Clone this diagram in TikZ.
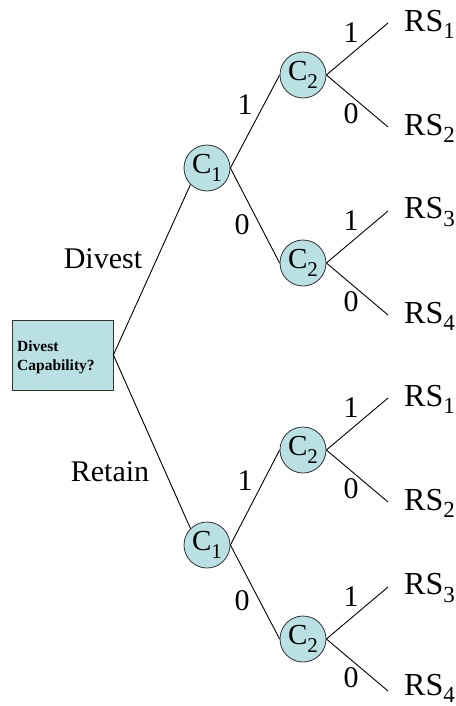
\documentclass[tikz,border=0pt]{standalone}
\usepackage{fontspec}
\setmainfont{Liberation Serif}
\definecolor{nodefill}{RGB}{185,224,226}
\newcommand\lbsub[1]{\raisebox{-0.28em}{\fontsize{21}{21}\selectfont #1}}
\newcommand\rssub[1]{\raisebox{-0.22em}{\fontsize{23}{23}\selectfont #1}}
\begin{document}
\begin{tikzpicture}[x=1pt,y=-1pt,
  branch/.style={draw=black, line width=0.9pt},
  chance/.style={circle, draw=black!80, line width=0.8pt, fill=nodefill,
    minimum size=46pt, inner sep=0pt, font=\fontsize{29}{29}\selectfont},
  decision/.style={rectangle, draw=black!80, line width=0.8pt, fill=nodefill,
    minimum width=101pt, minimum height=70pt, inner sep=0pt},
  lbl/.style={font=\fontsize{30}{34}\selectfont, inner sep=0pt},
  outcome/.style={font=\fontsize{32}{36}\selectfont, inner sep=0pt, anchor=west}]
\useasboundingbox (0,0) rectangle (455,706);

% decision box
\node[decision] (root) at (62.5,355) {};
\node[anchor=west, align=left, inner sep=0pt,
  font=\fontsize{15.5}{19}\selectfont\bfseries] (roottext) at (17,357)
  {Divest\\Capability?};

% first-level chance nodes
\node[chance] (c1a) at (207,168) {C\lbsub{1}};
\node[chance] (c1b) at (207,545) {C\lbsub{1}};

% second-level chance nodes
\node[chance] (c2a) at (303,75)  {C\lbsub{2}};
\node[chance] (c2b) at (303,263) {C\lbsub{2}};
\node[chance] (c2c) at (303,450) {C\lbsub{2}};
\node[chance] (c2d) at (303,639) {C\lbsub{2}};

% free ends of the last branches
\coordinate (e1) at (388,23);
\coordinate (e2) at (388,127);
\coordinate (e3) at (388,211);
\coordinate (e4) at (388,315);
\coordinate (e5) at (388,398);
\coordinate (e6) at (388,502);
\coordinate (e7) at (388,587);
\coordinate (e8) at (388,691);

% branches
\draw[branch] (root.east) -- (c1a.south west);
\draw[branch] (root.east) -- (c1b.north west);
\draw[branch] (c1a.east) -- (c2a.west);
\draw[branch] (c1a.east) -- (c2b.west);
\draw[branch] (c1b.east) -- (c2c.west);
\draw[branch] (c1b.east) -- (c2d.west);
\draw[branch] (c2a.east) -- (e1);
\draw[branch] (c2a.east) -- (e2);
\draw[branch] (c2b.east) -- (e3);
\draw[branch] (c2b.east) -- (e4);
\draw[branch] (c2c.east) -- (e5);
\draw[branch] (c2c.east) -- (e6);
\draw[branch] (c2d.east) -- (e7);
\draw[branch] (c2d.east) -- (e8);

% branch labels
\node[lbl] (ldiv) at (103,259) {Divest};
\node[lbl] (lret) at (110,472) {Retain};
\node[lbl] (l1a) at (245,105) {1};
\node[lbl] (l0a) at (242,225) {0};
\node[lbl] (l1b) at (245,481) {1};
\node[lbl] (l0b) at (242,601) {0};
\node[lbl] (l1c) at (351,33)  {1};
\node[lbl] (l0c) at (351,114) {0};
\node[lbl] (l1d) at (351,221) {1};
\node[lbl] (l0d) at (351,302) {0};
\node[lbl] (l1e) at (351,408) {1};
\node[lbl] (l0e) at (351,489) {0};
\node[lbl] (l1f) at (351,597) {1};
\node[lbl] (l0f) at (351,678) {0};

% outcomes
\node[outcome] (rs1) at (404,24)  {RS\rssub{1}};
\node[outcome] (rs2) at (404,128) {RS\rssub{2}};
\node[outcome] (rs3) at (404,212) {RS\rssub{3}};
\node[outcome] (rs4) at (404,316) {RS\rssub{4}};
\node[outcome] (rs5) at (404,399) {RS\rssub{1}};
\node[outcome] (rs6) at (404,503) {RS\rssub{2}};
\node[outcome] (rs7) at (404,588) {RS\rssub{3}};
\node[outcome] (rs8) at (404,688) {RS\rssub{4}};
\end{tikzpicture}
\end{document}
